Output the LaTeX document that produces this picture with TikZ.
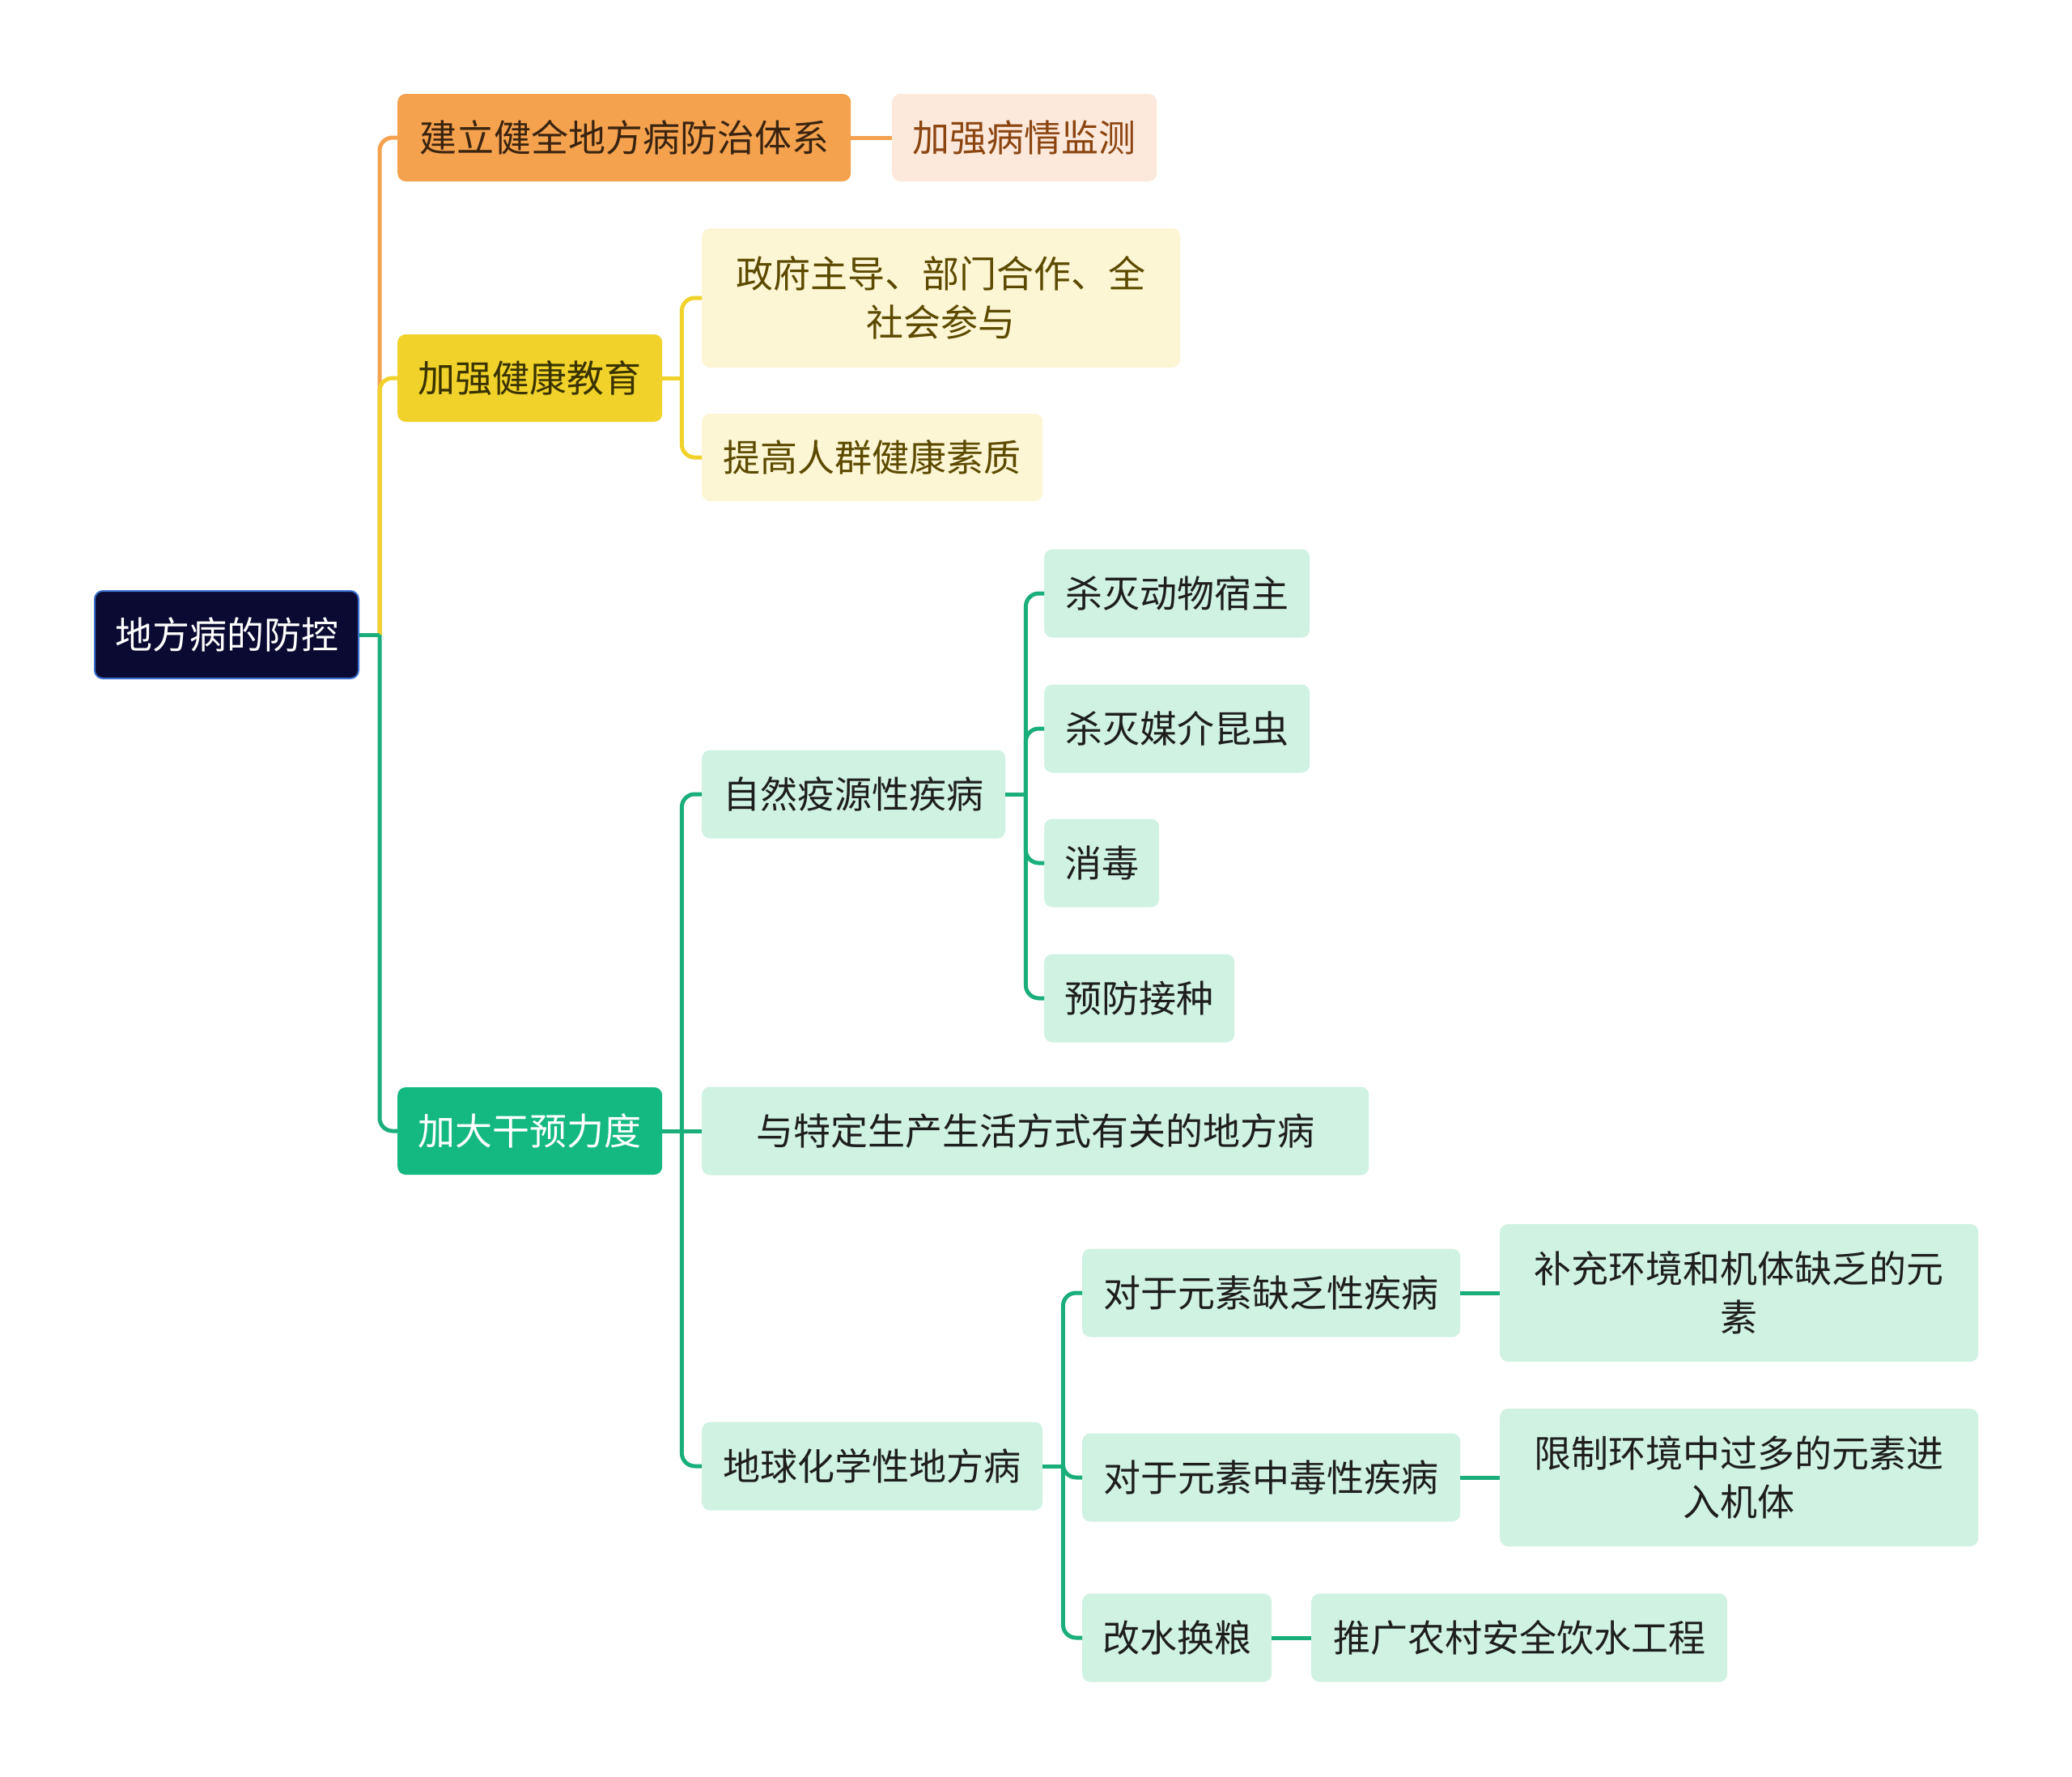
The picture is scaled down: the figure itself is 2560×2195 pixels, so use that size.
\documentclass[tikz,border=0pt]{standalone}
\usepackage{fontspec}
\usetikzlibrary{calc}
\setmainfont{Noto Sans CJK SC}
\definecolor{rootfill}{HTML}{0A0A32}
\definecolor{rootdraw}{HTML}{3B6FD0}
\definecolor{orgmain}{HTML}{F5A24F}
\definecolor{orglight}{HTML}{FDE9DB}
\definecolor{orgtext}{HTML}{3A2410}
\definecolor{orgltext}{HTML}{8B4511}
\definecolor{ylwmain}{HTML}{F0D22A}
\definecolor{ylwlight}{HTML}{FCF6D4}
\definecolor{ylwtext}{HTML}{3A3300}
\definecolor{ylwltext}{HTML}{5C4A00}
\definecolor{grnmain}{HTML}{14B881}
\definecolor{grnlight}{HTML}{CFF2E2}
\definecolor{grnline}{HTML}{1AAE7A}
\definecolor{grnltext}{HTML}{1E1E1E}
\tikzset{
  box/.style={rounded corners=10pt, anchor=west, inner sep=0pt, align=center,
    font=\fontsize{46}{60}\selectfont},
  rootbox/.style={box, fill=rootfill, draw=rootdraw, line width=2pt, text=white},
  obox/.style={box, fill=orgmain, text=orgtext},
  olbox/.style={box, fill=orglight, text=orgltext},
  ybox/.style={box, fill=ylwmain, text=ylwtext},
  ylbox/.style={box, fill=ylwlight, text=ylwltext},
  gbox/.style={box, fill=grnmain, text=white},
  glbox/.style={box, fill=grnlight, text=grnltext},
  oline/.style={draw=orgmain, line width=5pt},
  yline/.style={draw=ylwmain, line width=5pt},
  gline/.style={draw=grnline, line width=5pt},
  rc/.style={rounded corners=16pt},
}
\begin{document}
\begin{tikzpicture}[x=1pt,y=-1pt]
\useasboundingbox (0,0) rectangle (2560,2195);
\fill[white] (0,0) rectangle (2560,2195);
% nodes
\node[rootbox, minimum width=326pt, minimum height=108pt] (root) at (116,784) {地方病的防控};
\node[obox, minimum width=560pt, minimum height=108pt] (o1) at (491,170) {建立健全地方病防治体系};
\node[olbox, minimum width=327pt, minimum height=108pt] (o2) at (1102,170) {加强病情监测};
\node[ybox, minimum width=327pt, minimum height=108pt] (y1) at (491,467) {加强健康教育};
\node[ylbox, minimum width=591pt, minimum height=172pt] (y2) at (867,368) {政府主导、部门合作、全\\社会参与};
\node[ylbox, minimum width=421pt, minimum height=108pt] (y3) at (867,565) {提高人群健康素质};
\node[gbox, minimum width=327pt, minimum height=108pt] (g1) at (491,1397) {加大干预力度};
\node[glbox, minimum width=375pt, minimum height=109pt] (g2) at (867,981) {自然疫源性疾病};
\node[glbox, minimum width=328pt, minimum height=109pt] (g3) at (1290,733) {杀灭动物宿主};
\node[glbox, minimum width=328pt, minimum height=109pt] (g4) at (1290,900) {杀灭媒介昆虫};
\node[glbox, minimum width=142pt, minimum height=109pt] (g5) at (1290,1066) {消毒};
\node[glbox, minimum width=235pt, minimum height=109pt] (g6) at (1290,1233) {预防接种};
\node[glbox, minimum width=824pt, minimum height=109pt] (g7) at (867,1397) {与特定生产生活方式有关的地方病};
\node[glbox, minimum width=421pt, minimum height=109pt] (g8) at (867,1811) {地球化学性地方病};
\node[glbox, minimum width=467pt, minimum height=109pt] (g9) at (1337,1597) {对于元素缺乏性疾病};
\node[glbox, minimum width=591pt, minimum height=170pt] (g10) at (1853,1597) {补充环境和机体缺乏的元\\素};
\node[glbox, minimum width=467pt, minimum height=109pt] (g11) at (1337,1825) {对于元素中毒性疾病};
\node[glbox, minimum width=591pt, minimum height=170pt] (g12) at (1853,1825) {限制环境中过多的元素进\\入机体};
\node[glbox, minimum width=234pt, minimum height=109pt] (g13) at (1337,2023) {改水换粮};
\node[glbox, minimum width=514pt, minimum height=109pt] (g14) at (1620,2023) {推广农村安全饮水工程};
% junctions
\coordinate (rj) at ($(root.east)+(25,0)$);
\coordinate (yj) at ($(y1.east)+(24,0)$);
\coordinate (g1j) at ($(g1.east)+(24,0)$);
\coordinate (g2j) at ($(g2.east)+(25,0)$);
\coordinate (g8j) at ($(g8.east)+(25,0)$);
% level 1
\draw[oline, rc] (rj) |- (o1.west);
\draw[yline, rc] (rj) |- (y1.west);
\draw[gline, rc] (rj) |- (g1.west);
\draw[gline] (root.east) -- (rj);
% orange
\draw[oline] (o1.east) -- (o2.west);
% yellow
\draw[yline] (y1.east) -- (yj);
\draw[yline, rc] (yj) |- (y2.west);
\draw[yline, rc] (yj) |- (y3.west);
% green
\draw[gline] (g1.east) -- (g1j);
\draw[gline, rc] (g1j) |- (g2.west);
\draw[gline, rc] (g1j) |- (g8.west);
\draw[gline] (g1j) -- (g7.west);
\draw[gline] (g2.east) -- (g2j);
\draw[gline, rc] (g2j) |- (g3.west);
\draw[gline, rc] (g2j) |- (g4.west);
\draw[gline, rc] (g2j) |- (g5.west);
\draw[gline, rc] (g2j) |- (g6.west);
\draw[gline] (g8.east) -- (g8j);
\draw[gline, rc] (g8j) |- (g9.west);
\draw[gline, rc] (g8j) |- (g11.west);
\draw[gline, rc] (g8j) |- (g13.west);
\draw[gline] (g9.east) -- (g10.west);
\draw[gline] (g11.east) -- (g12.west);
\draw[gline] (g13.east) -- (g14.west);
\end{tikzpicture}
\end{document}
